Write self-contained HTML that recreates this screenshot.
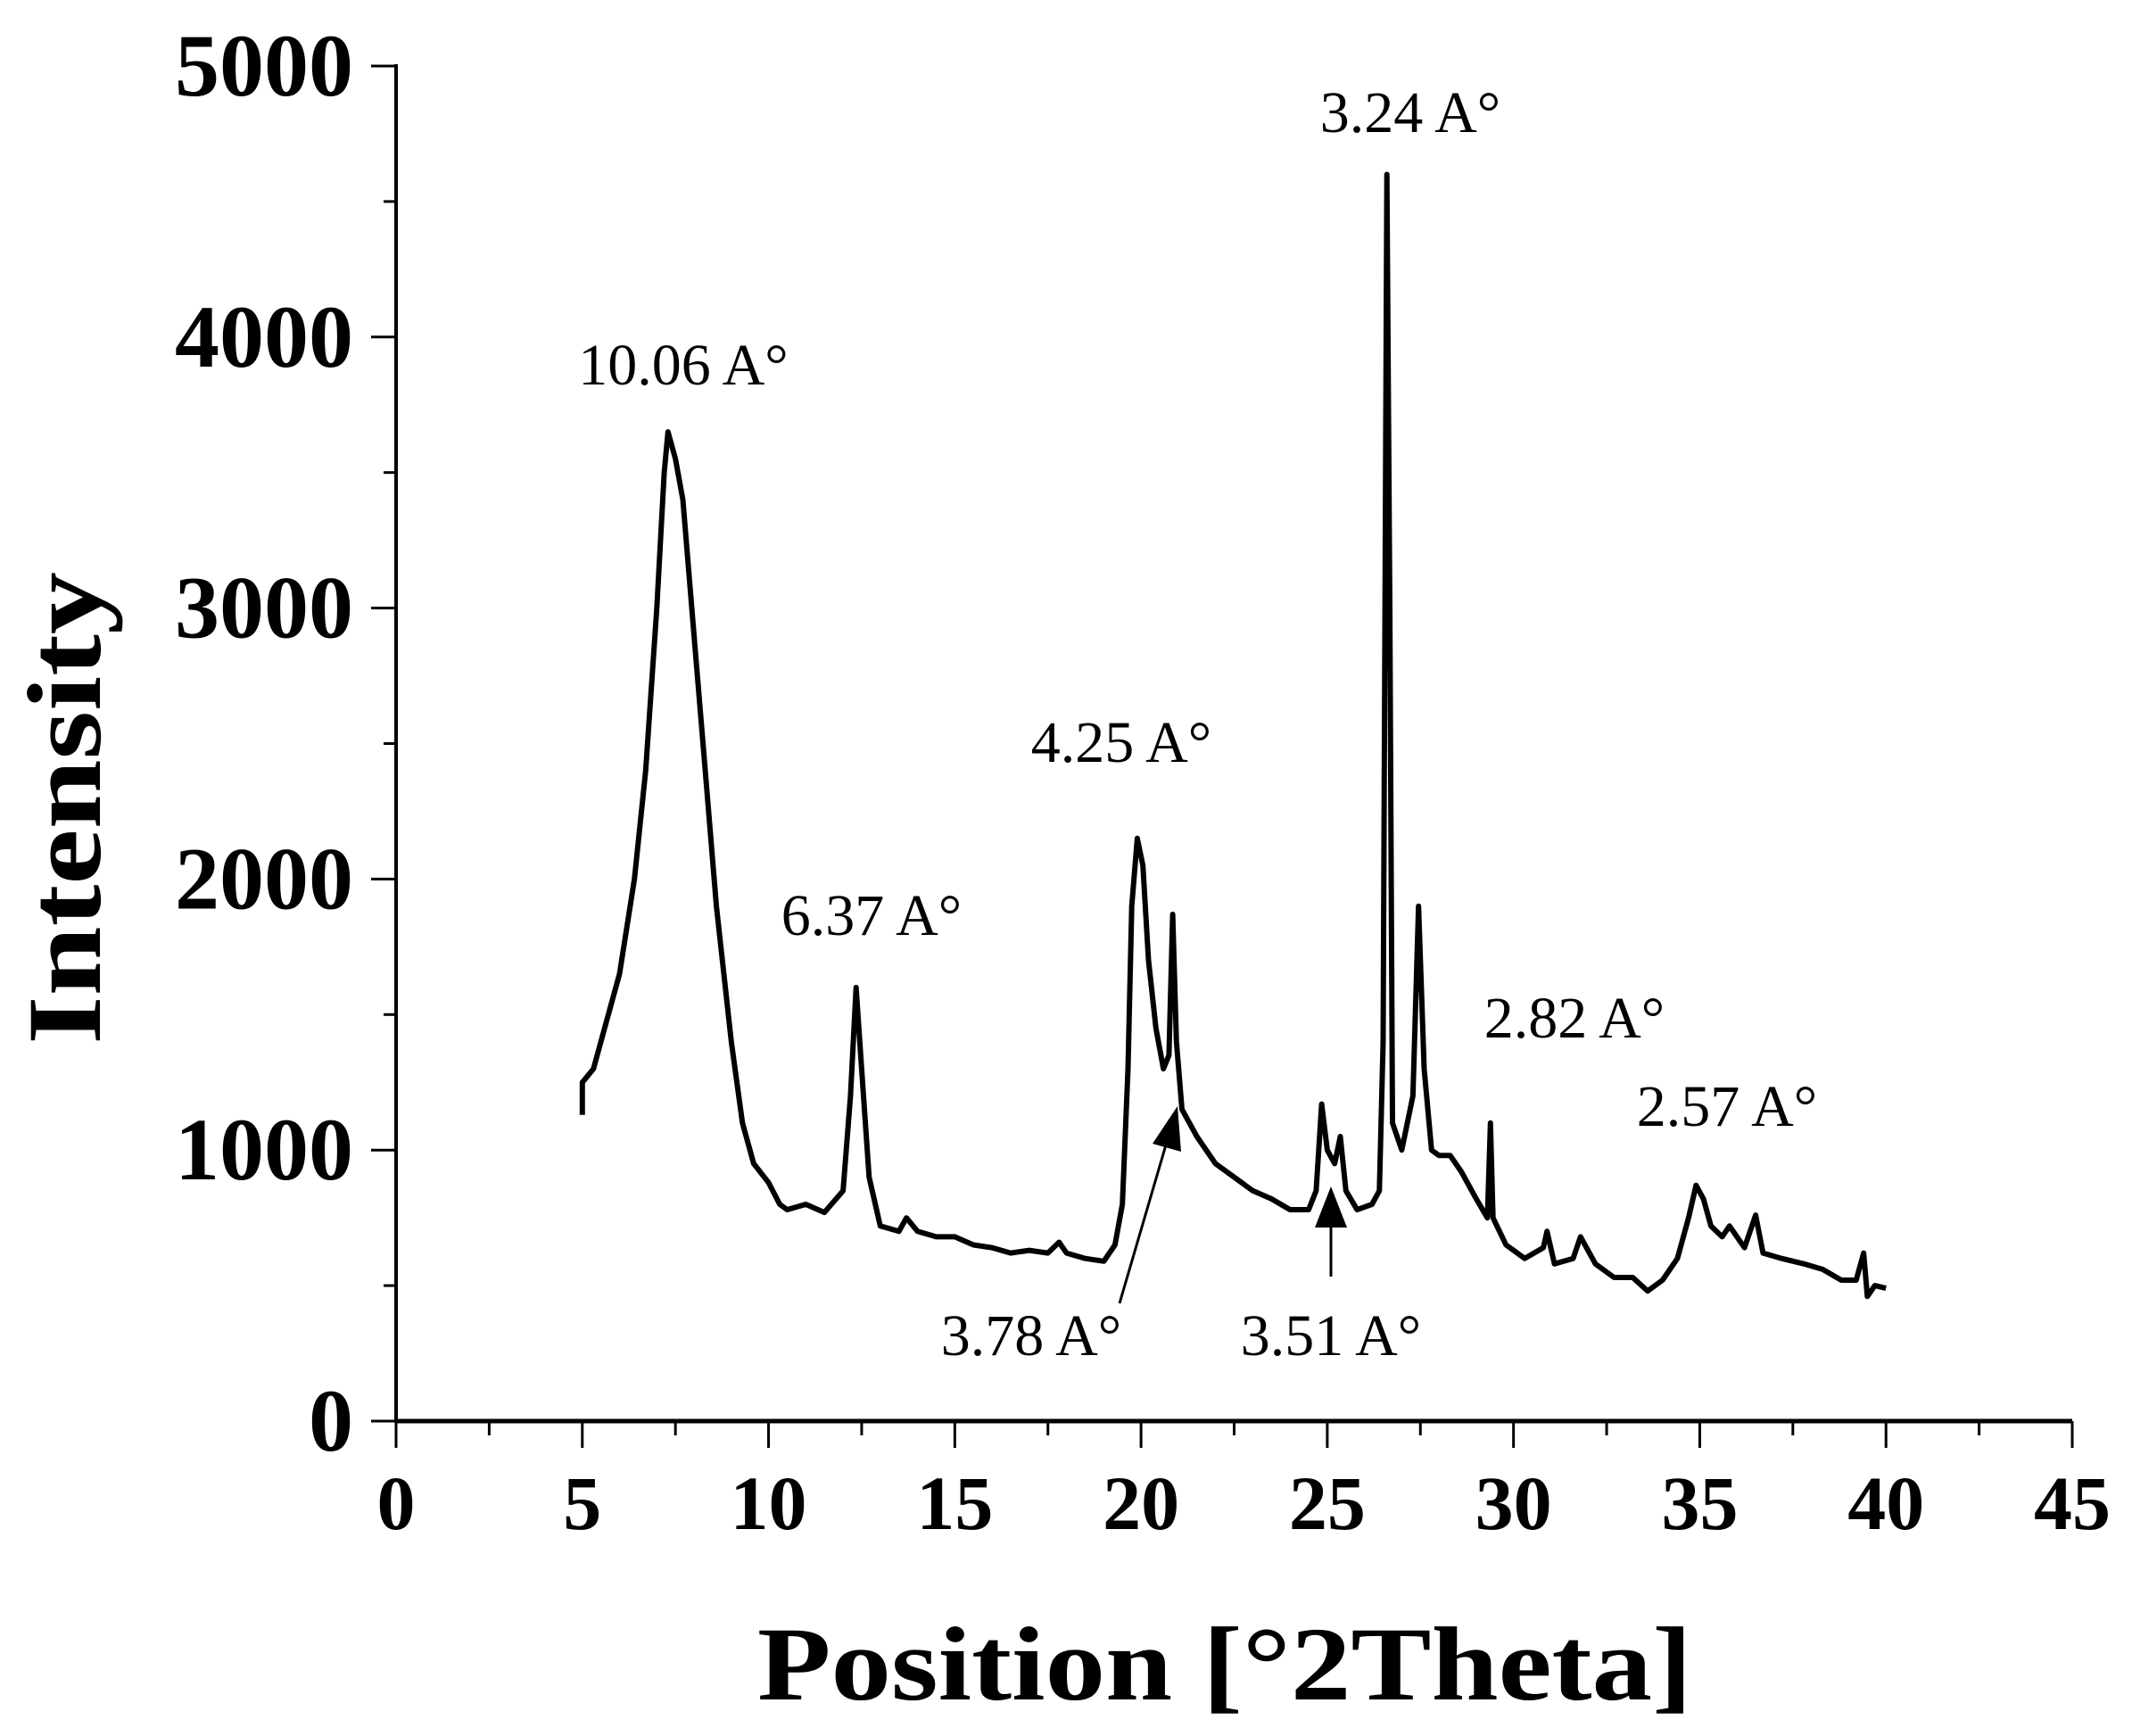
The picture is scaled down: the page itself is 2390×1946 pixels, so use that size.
<!DOCTYPE html>
<html><head><meta charset="utf-8"><style>
html,body{margin:0;padding:0;background:#fff;}
svg{display:block;}
text{font-family:"Liberation Serif",serif;fill:#000;}
</style></head><body>
<svg id="chart" width="2390" height="1946" viewBox="0 0 2390 1946" xmlns="http://www.w3.org/2000/svg">
<g id="axes"></g>
<path id="series" fill="none" stroke="#000" stroke-width="6" stroke-linejoin="round"/>
<g id="annos"></g>
<text x="1373" y="1905" font-size="118" font-weight="bold" text-anchor="middle" textLength="1048" lengthAdjust="spacingAndGlyphs">Position [°2Theta]</text>
<text transform="translate(112,906) rotate(-90)" font-size="118" font-weight="bold" text-anchor="middle" textLength="530" lengthAdjust="spacingAndGlyphs">Intensity</text>
</svg>
<script>
const xTicks=[0,5,10,15,20,25,30,35,40,45];
const yTicks=[0,1000,2000,3000,4000,5000];
const xs=[5.0,5.0,5.3,5.6,6.0,6.4,6.7,7.0,7.2,7.3,7.5,7.7,8.0,8.3,8.6,9.0,9.3,9.6,10.0,10.3,10.5,11,11.5,12.0,12.2,12.35,12.5,12.7,13.0,13.5,13.7,14,14.5,15,15.5,16,16.5,17,17.5,17.8,18,18.5,19,19.3,19.5,19.65,19.75,19.9,20.05,20.2,20.4,20.6,20.75,20.85,20.95,21.1,21.5,22,22.5,23,23.5,24,24.5,24.7,24.85,25.0,25.2,25.35,25.5,25.8,26.2,26.4,26.5,26.6,26.68,26.75,27.0,27.3,27.45,27.6,27.8,28.0,28.3,28.6,29.0,29.3,29.38,29.45,29.8,30.3,30.8,30.9,31.1,31.6,31.8,32.2,32.7,33.2,33.6,34,34.4,34.7,34.9,35.1,35.3,35.6,35.8,36.2,36.5,36.7,37.2,37.8,38.3,38.8,39.2,39.4,39.5,39.7,40.0];
const intensity=[1130,1250,1300,1450,1650,2000,2400,3000,3500,3650,3550,3400,2900,2400,1900,1400,1100,950,880,800,780,800,770,850,1200,1600,1300,900,720,700,750,700,680,680,650,640,620,630,620,660,620,600,590,650,800,1300,1900,2150,2050,1700,1450,1300,1350,1870,1400,1150,1050,950,900,850,820,780,780,850,1170,1000,950,1050,850,780,800,850,1400,4600,3000,1100,1000,1200,1900,1300,1000,980,980,920,820,750,1100,750,650,600,640,700,580,600,680,580,530,530,480,520,600,750,870,820,720,680,720,640,760,620,600,580,560,520,520,620,460,500,490];
const annoLabels=["10.06 A°","6.37 A°","4.25 A°","3.24 A°","2.82 A°","2.57 A°","3.78 A°","3.51 A°"];
const NS="http://www.w3.org/2000/svg";
const X0=444,X1=2323,Y0=1593,Y1=74;
function sx(v){return X0+(v-0)/(45-0)*(X1-X0);}
function sy(v){return Y0-(v-0)/(5000-0)*(Y0-Y1);}
function mk(tag,attrs,parent){const e=document.createElementNS(NS,tag);for(const k in attrs)e.setAttribute(k,attrs[k]);parent.appendChild(e);return e;}
const axes=document.getElementById('axes');
let el;
el=mk('line',{x1:X0,y1:Y0,x2:X1,y2:Y0,stroke:'#000','stroke-width':5},axes);


el=mk('line',{x1:X0,y1:Y0+2,x2:X0,y2:Y1-2,stroke:'#000','stroke-width':4},axes);


xTicks.forEach((t,i)=>{
 const x=sx(t);
 el=mk('line',{x1:x,y1:Y0,x2:x,y2:Y0+30,stroke:'#000','stroke-width':3},axes);
 
 
 if(i<xTicks.length-1){const xm=sx(t+2.5);
  el=mk('line',{x1:xm,y1:Y0,x2:xm,y2:Y0+16,stroke:'#000','stroke-width':3},axes);
  
  }
 el=mk('text',{x:x,y:1714,'font-size':86,'font-weight':'bold','text-anchor':'middle'},axes);
 el.textContent=t;
 
 
});
yTicks.forEach((t,i)=>{
 const y=sy(t);
 el=mk('line',{x1:X0-28,y1:y,x2:X0,y2:y,stroke:'#000','stroke-width':3},axes);
 
 
 if(i<yTicks.length-1){const ym=sy(t+500);
  el=mk('line',{x1:X0-14,y1:ym,x2:X0,y2:ym,stroke:'#000','stroke-width':3},axes);
  
  }
 el=mk('text',{x:396,y:y+33,'font-size':100,'font-weight':'bold','text-anchor':'end'},axes);
 el.textContent=t;
 
 
});
let d='';
xs.forEach((x,i)=>{d+=(i?'L':'M')+sx(x).toFixed(1)+','+sy(intensity[i]).toFixed(1);});
document.getElementById('series').setAttribute('d',d);
const annoPos=[[766,431],[977,1048],[1257,854],[1581,148],[1765,1163],[1936,1262],[1156,1519],[1492,1519]];
const annos=document.getElementById('annos');
annoLabels.forEach((s,i)=>{
 el=mk('text',{x:annoPos[i][0],y:annoPos[i][1],'font-size':66,'text-anchor':'middle'},annos);
 el.textContent=s;
 
 
});
el=mk('line',{x1:1255,y1:1461,x2:1308,y2:1280,stroke:'#000','stroke-width':3},annos);


el=mk('polygon',{points:'1320,1240 1292,1282 1324,1291',fill:'#000'},annos);


el=mk('line',{x1:1492,y1:1431,x2:1492,y2:1370,stroke:'#000','stroke-width':3},annos);


el=mk('polygon',{points:'1492,1330 1474,1376 1510,1376',fill:'#000'},annos);


</script>
</body></html>
